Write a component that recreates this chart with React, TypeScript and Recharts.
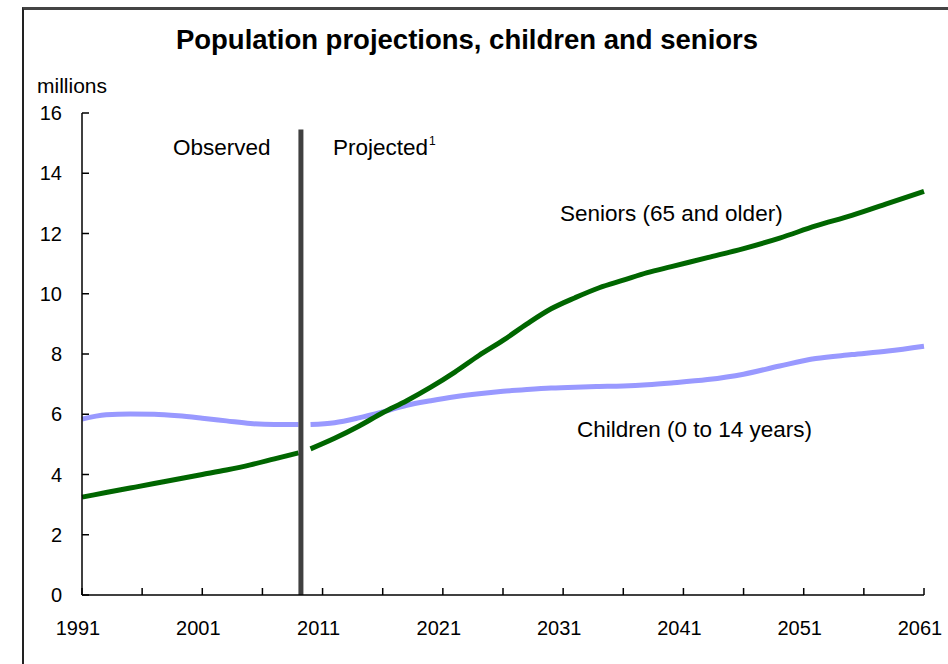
import React from 'react';
import { LineChart, Line, XAxis, YAxis, ReferenceLine } from 'recharts';

// observed period (to 2009)
const observedYears = [1991, 1993, 1995, 1997, 1999, 2001, 2003, 2005, 2007, 2009];
const childrenObserved = [5.84, 5.98, 6.01, 6.0, 5.95, 5.87, 5.78, 5.69, 5.66, 5.66];
const seniorsObserved = [3.25, 3.4, 3.55, 3.7, 3.85, 4.0, 4.15, 4.32, 4.52, 4.72];

// projected period
const projectedYears = [
  2010, 2012, 2014, 2016, 2018, 2020, 2022, 2024, 2026, 2028, 2030, 2032,
  2034, 2036, 2038, 2040, 2043, 2046, 2049, 2052, 2055, 2058, 2061,
];
const childrenProjected = [
  5.66, 5.72, 5.88, 6.08, 6.3, 6.45, 6.58, 6.68, 6.76, 6.82, 6.87, 6.9,
  6.92, 6.94, 6.98, 7.04, 7.15, 7.33, 7.6, 7.85, 7.98, 8.1, 8.26,
];
const seniorsProjected = [
  4.85, 5.2, 5.6, 6.05, 6.45, 6.9, 7.4, 7.95, 8.45, 9.0, 9.5, 9.87,
  10.2, 10.45, 10.7, 10.9, 11.2, 11.5, 11.85, 12.25, 12.6, 13.0, 13.4,
];

const xTicks = [1991, 1996, 2001, 2006, 2011, 2016, 2021, 2026, 2031, 2036, 2041, 2046, 2051, 2056, 2061];
const xLabelYears = [1991, 2001, 2011, 2021, 2031, 2041, 2051, 2061];
const yTicks = [0, 2, 4, 6, 8, 10, 12, 14, 16];
const breakYear = 2009.2;

const FONT = '"Liberation Sans", Arial, sans-serif';

const toSeries = (years: number[], values: number[]) =>
  years.map((year, i) => ({ year, value: values[i] }));

const XTick = ({ x, y, payload }: any) => (
  <g>
    <line x1={x} x2={x} y1={y} y2={y - 7} stroke="#000" strokeWidth={1.5} />
    {xLabelYears.includes(payload.value) && (
      <text x={x - 4} y={y + 40} textAnchor="middle" fontSize={20} fontFamily={FONT} fill="#000">
        {payload.value}
      </text>
    )}
  </g>
);

const YTick = ({ x, y, payload }: any) => (
  <g>
    <line x1={x} x2={x + 7} y1={y} y2={y} stroke="#000" strokeWidth={1.5} />
    <text x={x - 20} y={y} dy="0.36em" textAnchor="end" fontSize={20} fontFamily={FONT} fill="#000">
      {payload.value}
    </text>
  </g>
);

export default function App() {
  return (
    <div style={{ position: 'absolute', left: 0, top: 0, width: 948, height: 664, background: '#fff', overflow: 'hidden' }}>
      <div
        style={{
          position: 'absolute',
          left: 22,
          top: 7,
          right: -10,
          bottom: -10,
          borderLeft: '2px solid #222',
          borderTop: '3px solid #444',
        }}
      />
      <LineChart
        width={948}
        height={664}
        margin={{ top: 113, right: 24, bottom: 39, left: 22 }}
        style={{ position: 'absolute', left: 0, top: 0 }}
      >
        <XAxis
          dataKey="year"
          type="number"
          domain={[1991, 2061]}
          ticks={xTicks}
          interval={0}
          height={30}
          tickSize={0}
          tickMargin={0}
          tickLine={false}
          axisLine={{ stroke: '#000', strokeWidth: 1.5 }}
          tick={<XTick />}
        />
        <YAxis
          type="number"
          domain={[0, 16]}
          ticks={yTicks}
          interval={0}
          width={60}
          tickSize={0}
          tickMargin={0}
          tickLine={false}
          axisLine={{ stroke: '#000', strokeWidth: 1.5 }}
          tick={<YTick />}
        />
        <Line
          data={toSeries(observedYears, childrenObserved)}
          dataKey="value"
          type="monotone"
          stroke="#9999ff"
          strokeWidth={5}
          dot={false}
          isAnimationActive={false}
        />
        <Line
          data={toSeries(projectedYears, childrenProjected)}
          dataKey="value"
          type="monotone"
          stroke="#9999ff"
          strokeWidth={5}
          dot={false}
          isAnimationActive={false}
        />
        <Line
          data={toSeries(observedYears, seniorsObserved)}
          dataKey="value"
          type="monotone"
          stroke="#006600"
          strokeWidth={5}
          dot={false}
          isAnimationActive={false}
        />
        <Line
          data={toSeries(projectedYears, seniorsProjected)}
          dataKey="value"
          type="monotone"
          stroke="#006600"
          strokeWidth={5}
          dot={false}
          isAnimationActive={false}
        />
        <ReferenceLine
          segment={[{ x: breakYear, y: 0 }, { x: breakYear, y: 15.45 }]}
          stroke="#404040"
          strokeWidth={5}
        />
      </LineChart>
      <svg width={948} height={664} style={{ position: 'absolute', left: 0, top: 0, pointerEvents: 'none' }} fontFamily={FONT}>
        <text x={467} y={49} textAnchor="middle" fontSize={27.5} fontWeight="bold" fill="#000">
          Population projections, children and seniors
        </text>
        <text x={37} y={93} fontSize={21} fill="#000">millions</text>
        <text x={173} y={155} fontSize={22.5} fill="#000">Observed</text>
        <text x={333} y={155} fontSize={22.5} fill="#000">Projected</text>
        <text x={429} y={145} fontSize={12} fill="#000">1</text>
        <text x={560} y={221} fontSize={22.5} fill="#000">Seniors (65 and older)</text>
        <text x={577} y={437} fontSize={22.5} fill="#000">Children (0 to 14 years)</text>
      </svg>
    </div>
  );
}
